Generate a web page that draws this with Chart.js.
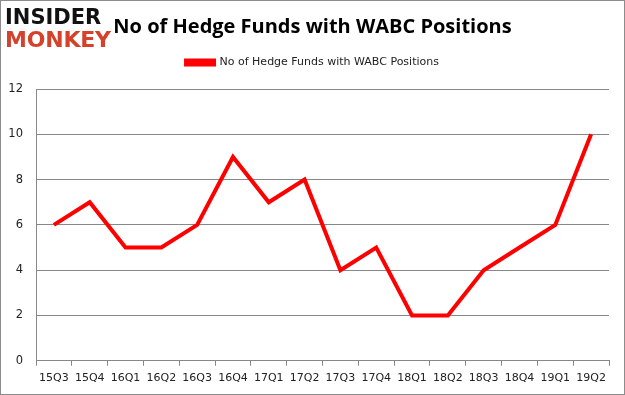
<!DOCTYPE html>
<html>
<head>
<meta charset="utf-8">
<script src="https://cdn.jsdelivr.net/npm/chart.js@4/dist/chart.umd.min.js"></script>
<style>
  html, body { margin: 0; padding: 0; background: #fff; }
  #wrap { position: relative; width: 625px; height: 395px; box-sizing: border-box; border: 1px solid #8c8c8c; }
  #logo { position: absolute; left: 4px; top: 5px; font-family: "DejaVu Sans", sans-serif; font-weight: bold; }
  #logo .a { color: #111; font-size: 21px; line-height: 22px; }
  #logo .b { color: #d4422b; font-size: 22px; line-height: 24px; letter-spacing: -0.2px; }
</style>
</head>
<body>
<div id="wrap">
  <canvas id="chart"></canvas>
  <div id="logo"><div class="a">INSIDER</div><div class="b">MONKEY</div></div>
</div>
<script>
const quarters = ['15Q3', '15Q4', '16Q1', '16Q2', '16Q3', '16Q4', '17Q1', '17Q2',
                  '17Q3', '17Q4', '18Q1', '18Q2', '18Q3', '18Q4', '19Q1', '19Q2'];
const hedgeFunds = [6, 7, 5, 5, 6, 9, 7, 8, 4, 5, 2, 2, 4, 5, 6, 10];
const seriesName = 'No of Hedge Funds with WABC Positions';

// push the plot area down a bit below the legend
const legendGap = {
    id: 'legendGap',
    beforeInit(chart) {
        const fit = chart.legend.fit;
        chart.legend.fit = function () {
            fit.bind(chart.legend)();
            this.height += 11;
        };
    },
    // center title and legend on the whole canvas, not on the padded area
    afterLayout(chart) {
        chart.titleBlock.left = 0;
        chart.titleBlock.right = chart.width;
        chart.legend.left = 0;
        chart.legend.right = chart.width;
    }
};

const ctx = document.getElementById('chart');
new Chart(ctx, {
    type: 'line',
    data: {
        labels: quarters,
        datasets: [{
            label: seriesName,
            data: hedgeFunds,
            borderColor: '#ff0000',
            backgroundColor: '#ff0000',
            borderWidth: 4,
            pointRadius: 0,
            tension: 0
        }]
    },
    options: {
        responsive: true,
        maintainAspectRatio: false,
        animation: false,
        layout: { padding: { left: 0, right: 15, top: 10, bottom: 3 } },
        plugins: {
            title: {
                display: true,
                text: 'No of Hedge Funds with WABC Positions',
                color: '#000',
                font: { family: 'Open Sans', size: 20, weight: 'bold' },
                padding: { top: 4, bottom: 4 }
            },
            legend: {
                position: 'top',
                labels: {
                    color: '#222',
                    font: { family: 'DejaVu Sans', size: 11 },
                    boxWidth: 28,
                    boxHeight: 4,
                    padding: 14
                }
            },
            tooltip: { enabled: false }
        },
        scales: {
            x: {
                offset: true,
                grid: { offset: true, drawOnChartArea: false, drawTicks: true, tickLength: 5, color: '#888' },
                border: { color: '#888' },
                ticks: { color: '#222', font: { family: 'DejaVu Sans', size: 11 }, maxRotation: 0, padding: 6 }
            },
            y: {
                min: 0,
                max: 12,
                afterFit(scale) { scale.width = 35; },
                ticks: { stepSize: 2, color: '#222', font: { family: 'DejaVu Sans', size: 11.5 }, padding: 13 },
                grid: { color: '#888', drawTicks: false },
                border: { color: '#888' }
            }
        }
    },
    plugins: [legendGap]
});
</script>
</body>
</html>
